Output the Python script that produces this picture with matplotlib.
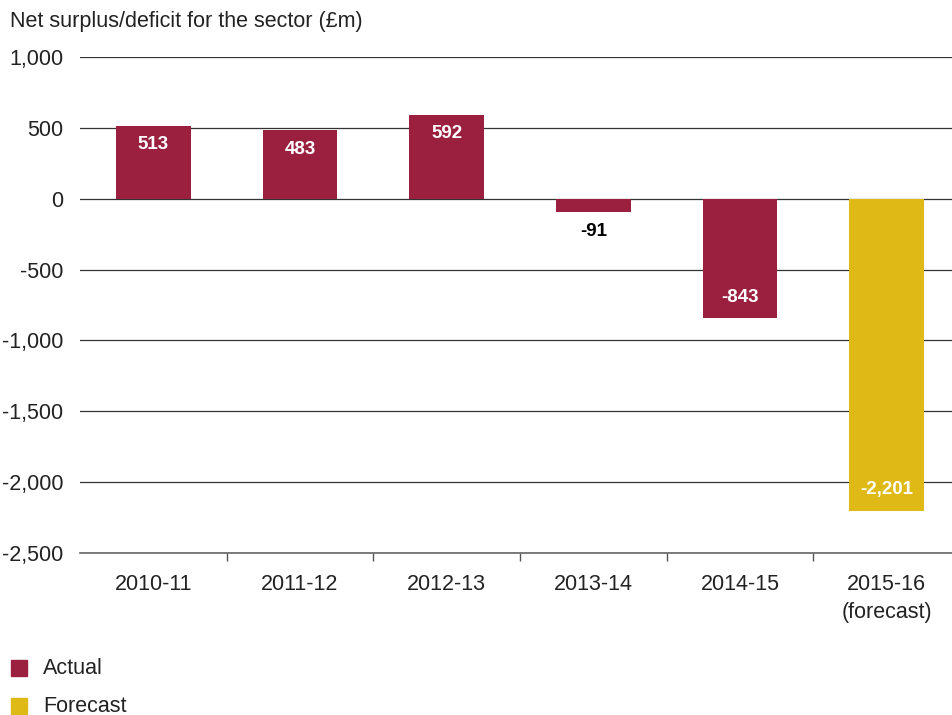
import matplotlib.pyplot as plt
from matplotlib.patches import Rectangle

plt.rcParams['font.family'] = ['Liberation Sans', 'DejaVu Sans']

years = ["2010-11", "2011-12", "2012-13", "2013-14", "2014-15", "2015-16\n(forecast)"]
surplus = [513, 483, 592, -91, -843, -2201]
is_forecast = [False, False, False, False, False, True]

ACTUAL = "#9b2040"
FORECAST = "#dfba16"
TEXT = "#222222"

fig = plt.figure(figsize=(9.52, 7.15), dpi=100)
ax = fig.add_axes([80 / 952, 1 - 553 / 715, 880 / 952, 496 / 715])

x = list(range(len(years)))
colours = [FORECAST if f else ACTUAL for f in is_forecast]
ax.bar(x, surplus, width=0.51, color=colours, zorder=3)

# value labels: inside the bar end, or just below for short bars
for xi, v in zip(x, surplus):
    if abs(v) < 200:
        ax.annotate(f"{v:,}", (xi, v), xytext=(0, -14.5), textcoords="offset points",
                    ha="center", va="center", fontsize=13.5, fontweight="bold",
                    color="black", zorder=4)
    else:
        off = -13.5 if v > 0 else 15
        ax.annotate(f"{v:,}", (xi, v), xytext=(0, off), textcoords="offset points",
                    ha="center", va="center", fontsize=13.5, fontweight="bold",
                    color="white", zorder=4)

ax.set_xlim(-0.5, 5.5)
ax.set_ylim(-2500, 1000)
ax.set_yticks(range(-2500, 1001, 500))
ax.set_yticklabels([f"{t:,}" for t in range(-2500, 1001, 500)])
ax.yaxis.grid(True, color="#333333", linewidth=0.9, zorder=1)
ax.set_axisbelow(True)

ax.set_xticks(x)
ax.set_xticklabels(years, fontsize=15.5, color=TEXT, linespacing=1.45)
ax.set_xticks([i + 0.5 for i in range(5)], minor=True)
ax.tick_params(axis="x", which="major", length=0, pad=15)
ax.tick_params(axis="x", which="minor", length=6, width=1, color="#555555")
ax.tick_params(axis="y", length=0, pad=12, labelsize=15.5, labelcolor=TEXT)

for s in ["top", "right", "left"]:
    ax.spines[s].set_visible(False)
ax.spines["bottom"].set_color("#666666")
ax.spines["bottom"].set_linewidth(1.2)

fig.text(10 / 952, 1 - 22 / 715, "Net surplus/deficit for the sector (£m)",
         fontsize=15.5, color=TEXT, va="center", ha="left")

# legend: coloured squares with labels, bottom left
for i, (col, name) in enumerate([(ACTUAL, "Actual"), (FORECAST, "Forecast")]):
    yc = 668 + 38 * i
    fig.patches.append(Rectangle((11 / 952, 1 - (yc + 8) / 715), 16 / 952, 16 / 715,
                                 transform=fig.transFigure, color=col))
    fig.text(43 / 952, 1 - yc / 715, name, fontsize=15.5, color=TEXT,
             va="center", ha="left")

fig.savefig("out.png", dpi=100)
